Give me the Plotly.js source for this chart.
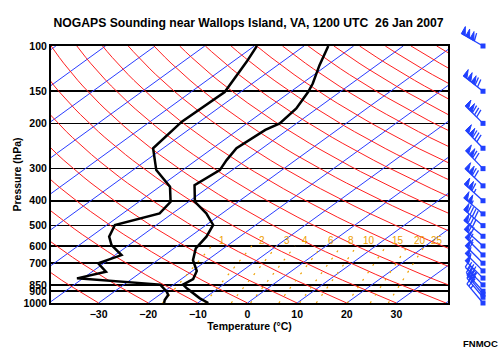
<!DOCTYPE html>
<html><head><meta charset="utf-8">
<script src="https://cdn.plot.ly/plotly-3.0.1.min.js"></script>
<style>html,body{margin:0;padding:0;background:#fff}#chart{width:500px;height:350px}</style>
</head><body><div id="chart"></div>
<script>
// ---- Sounding data ----
const tempP = [100,119,140,151,175,200,212,250,278,304,348,404,448,497,552,613,681,751,807,848,877,959,1000];
const tempC = [-55.1,-51.5,-47.8,-46.4,-44.2,-43.4,-44.5,-45.2,-43.9,-42.5,-43.4,-38.7,-33.2,-28.6,-26.7,-25.6,-22.9,-19.1,-17.6,-18.1,-16.3,-10.9,-7.9];
const dewP  = [100,115,151,197,250,278,304,353,404,448,497,552,595,651,701,756,802,848,904,931,974,1000];
const dewC  = [-69.5,-67.2,-63.2,-63.6,-62.0,-58.4,-55.3,-47.9,-43.6,-42.6,-48.4,-46.3,-43.5,-38.7,-41.1,-37.2,-41.2,-22.7,-19.4,-18.2,-17.5,-16.8];

// ---- Wind barbs (pressure hPa, direction deg, speed kt) ----
const windP   = [100,150,200,250,300,350,400,450,500,550,600,650,700,750,800,850,900,925,950,1000];
const windDir = [300,308,315,316,316,314,312,310,310,310,312,315,315,315,315,315,318,320,320,320];
const windSpd = [160,170,130,130,120,120,115,105,90,80,70,65,60,55,50,45,40,35,30,25];

// ---- Background lines ----
const isotherms = [-110,-100,-90,-80,-70,-60,-50,-40,-30,-20,-10,0,10,20,30,40];
const thetas = [-40,-30,-20,-10,0,10,20,30,40,50,60,70,80,90,100,110,120,130,140,150,160,170,180,190];
const mixRatios = [1,2,3,4,6,8,10,15,20,25];
const mixLabels = ['1','2','3','4','6','8','10','15','20','25'];

// ---- Axis ticks ----
const pTicks = [100,150,200,300,400,500,600,700,850,900,1000];
const pTickText = ['100','150','200','300','400','500','600','700','850','900','1000'];
const tTicks = [-30,-20,-10,0,10,20,30];

const K = 31;  // skew (°C per ln p unit)
const skewX = (T,p) => T + K*Math.log(1000/p);

// pressure sampling for curved lines
const pSamp = [];
for (let i=0;i<=45;i++) pSamp.push(1000*Math.pow(0.1,i/45));

const traces = [];
// isotherms
{ const x=[],y=[]; isotherms.forEach(T=>{ x.push(skewX(T,1000),skewX(T,100),null); y.push(1000,100,null); });
  traces.push({x,y,mode:'lines',line:{color:'#2a3cff',width:1},hoverinfo:'skip'}); }
// dry adiabats
{ const x=[],y=[]; thetas.forEach(th=>{ const tk=th+273.15; pSamp.forEach(p=>{ const T=tk*Math.pow(p/1000,0.2857)-273.15; x.push(skewX(T,p)); y.push(p); }); x.push(null); y.push(null); });
  traces.push({x,y,mode:'lines',line:{color:'#ff2020',width:1},hoverinfo:'skip'}); }
// mixing ratio lines
const tdFromW = (w,p) => { const e=w*p/(622+w); const l=Math.log(e/6.112); return 243.5*l/(17.67-l); };
{ const x=[],y=[]; mixRatios.forEach(w=>{ for (let p=1000;p>=600;p-=20){ x.push(skewX(tdFromW(w,p),p)); y.push(p);} x.push(null); y.push(null); });
  traces.push({x,y,mode:'lines',line:{color:'#eea000',width:1.2,dash:'2px,7px'},hoverinfo:'skip'}); }
// temperature & dewpoint
traces.push({x:tempC.map((T,i)=>skewX(T,tempP[i])),y:tempP,mode:'lines',line:{color:'#000',width:2.5}});
traces.push({x:dewC.map((T,i)=>skewX(T,dewP[i])),y:dewP,mode:'lines',line:{color:'#000',width:2.5}});

// wind barbs on overlay axes (x2: pixels, y2: log pressure, 257 px per decade)
const stationX = 483, pxPerDec = 257;
const L=25, pw=4.5, ph=8, bl=8, sp=3;
{ const lx=[],ly=[],fx=[],fy=[];
  const pt=(p0,sx,sy)=>[stationX+sx, p0*Math.pow(10,sy/pxPerDec)];
  windP.forEach((p0,i)=>{
    const d=windDir[i]*Math.PI/180;
    const ux=Math.sin(d), uy=-Math.cos(d);
    const qx=Math.cos(d), qy=Math.sin(d);
    const at=(s,h,t)=>pt(p0, ux*s+qx*h+ux*(t||0), uy*s+qy*h+uy*(t||0));
    let a=at(0,0), b=at(L,0);
    lx.push(a[0],b[0],null); ly.push(a[1],b[1],null);
    let spd=Math.round(windSpd[i]/5)*5, s=L;
    while(spd>=50){ const p1=at(s,0),p2=at(s-pw,0),p3=at(s,ph); fx.push(p1[0],p2[0],p3[0],p1[0],null); fy.push(p1[1],p2[1],p3[1],p1[1],null); s-=pw+0.5; spd-=50; }
    while(spd>=10){ const p1=at(s,0),p2=at(s,bl,2); lx.push(p1[0],p2[0],null); ly.push(p1[1],p2[1],null); s-=sp; spd-=10; }
    if(spd>=5){ const p1=at(s,0),p2=at(s,bl/2,1); lx.push(p1[0],p2[0],null); ly.push(p1[1],p2[1],null); }
  });
  traces.push({x:fx,y:fy,xaxis:'x2',yaxis:'y2',mode:'lines',fill:'toself',fillcolor:'#2040ff',line:{color:'#2040ff',width:1},hoverinfo:'skip'});
  traces.push({x:lx,y:ly,xaxis:'x2',yaxis:'y2',mode:'lines',line:{color:'#2040ff',width:1.3},hoverinfo:'skip'});
  traces.push({x:windP.map(()=>stationX),y:windP,xaxis:'x2',yaxis:'y2',mode:'markers',marker:{color:'#2040ff',size:5,symbol:'square'},hoverinfo:'skip'});
}

const annotations = mixRatios.map((w,i)=>({x:skewX(tdFromW(w,569),569), y:Math.log10(569), xref:'x', yref:'y', text:mixLabels[i], showarrow:false, xanchor:'left', yanchor:'middle', font:{size:10,color:'#eea000'}}));
annotations.push({x:480/500,y:1-343/350,xref:'paper',yref:'paper',text:'<b>FNMOC</b>',showarrow:false,xanchor:'center',yanchor:'middle',font:{size:9.5,color:'#000'}});

const bold = {size:10.5,color:'#000',weight:'bold'};
const layout = {
  width:500,height:350,margin:{l:0,r:0,t:0,b:0},
  paper_bgcolor:'#fff',plot_bgcolor:'rgba(0,0,0,0)',showlegend:false,
  font:{family:'Liberation Sans, Arial, sans-serif',color:'#000'},
  title:{text:'<b>NOGAPS Sounding near Wallops Island, VA, 1200 UTC\u00a0 26 Jan 2007</b>',font:{size:12.2,color:'#000'},x:0.497,xref:'container',y:1-23/350,yref:'container',xanchor:'center',yanchor:'middle'},
  xaxis:{domain:[51/500,448/500],range:[-39.6,40.4],tickvals:tTicks,showgrid:false,zeroline:false,showline:true,mirror:true,linecolor:'#000',linewidth:2,ticks:'',tickfont:bold,title:{text:'Temperature (°C)',font:bold,standoff:0}},
  yaxis:{domain:[47/350,304/350],type:'log',range:[3,2],tickvals:pTicks,ticktext:pTickText,showgrid:true,gridcolor:'#000',gridwidth:1.6,zeroline:false,showline:true,mirror:true,linecolor:'#000',linewidth:2,ticks:'',tickfont:bold,title:{text:'Pressure (hPa)',font:bold,standoff:0}},
  xaxis2:{domain:[0,1],range:[0,500],visible:false,anchor:'y2'},
  yaxis2:{domain:[0,1],type:'log',range:[3+47/257,2-46/257],visible:false,anchor:'x2'},
  annotations
};
Plotly.newPlot('chart',traces,layout,{staticPlot:true});
</script></body></html>
